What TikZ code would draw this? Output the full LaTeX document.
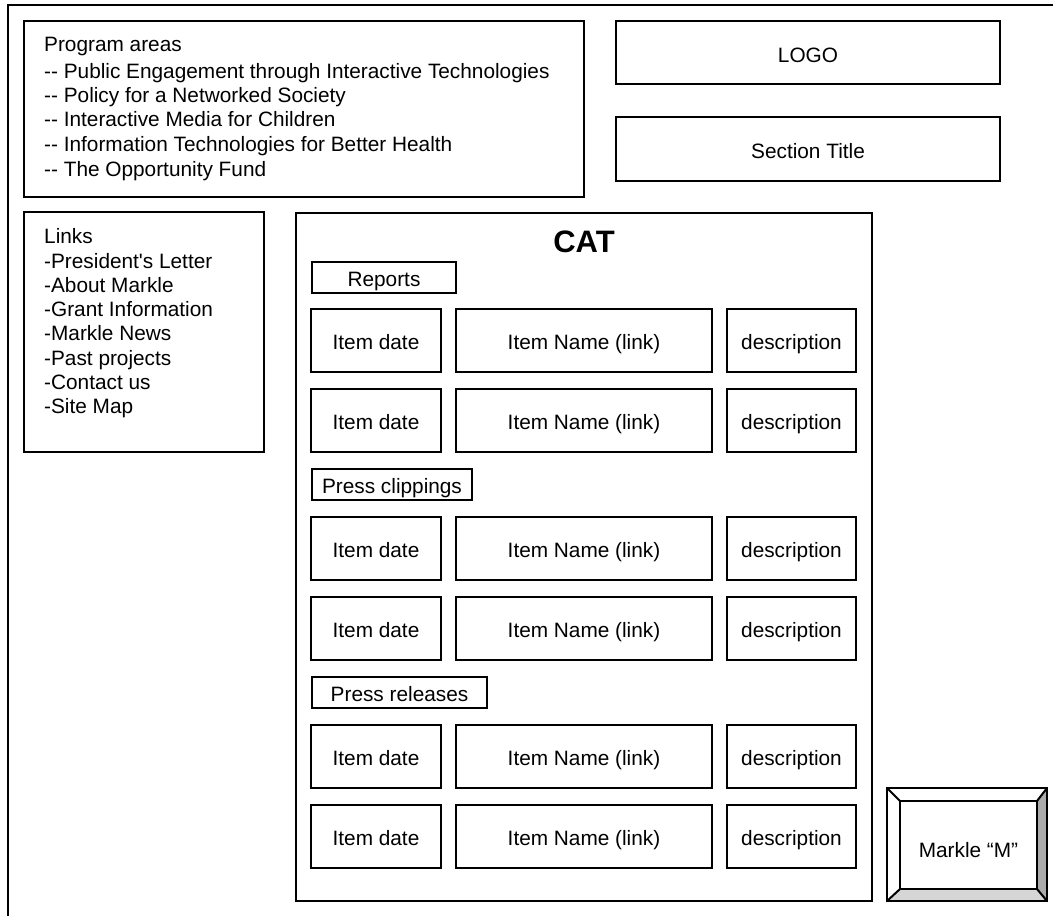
\documentclass[tikz,border=0pt]{standalone}
\usepackage{fontspec}
\setmainfont{Liberation Sans}[Ligatures=TeXOff]
\begin{document}
\begin{tikzpicture}[x=1pt,y=-1pt,
  frame/.style={draw=black, line width=2pt},
  box/.style={draw=black, line width=2pt, inner sep=0pt, align=center,
    text height=18pt, text depth=0pt,
    font=\fontsize{20.8}{24}\selectfont},
  itembox/.style={box, minimum height=63pt},
  label/.style={box, minimum height=31pt},
  txt/.style={anchor=base west, inner sep=0pt, font=\fontsize{20.8}{24}\selectfont},
]
\useasboundingbox (0,0) rectangle (1053,916);
% outer frame (extends beyond the page at right and bottom)
\coordinate (fbl) at (8,930);
\coordinate (ftl) at (8,5);
\coordinate (ftr) at (1070,5);
\draw[frame] (fbl) -- (ftl) -- (ftr);

% program areas
\node[box, minimum width=560pt, minimum height=176pt] (prog) at (304,109) {};
\node[txt] (p0) at (44,51.7) {Program areas};
\node[txt] (p1) at (44,78.3) {-- Public Engagement through Interactive Technologies};
\node[txt] (p2) at (44,102.5) {-- Policy for a Networked Society};
\node[txt] (p3) at (44,126.8) {-- Interactive Media for Children};
\node[txt] (p4) at (44,151.1) {-- Information Technologies for Better Health};
\node[txt] (p5) at (44,176.7) {-- The Opportunity Fund};

% logo and title
\node[box, minimum width=384pt, minimum height=63pt, text height=20pt] (logo) at (808,52.5) {LOGO};
\node[box, minimum width=384pt, minimum height=64pt, text height=19pt] (section) at (808,149) {Section Title};

% links
\node[box, minimum width=240pt, minimum height=240pt] (links) at (144,332) {};
\node[txt] (l0) at (44,243.5) {Links};
\node[txt] (l1) at (44,268) {-President's Letter};
\node[txt] (l2) at (44,292.3) {-About Markle};
\node[txt] (l3) at (44,316.6) {-Grant Information};
\node[txt] (l4) at (44,340.9) {-Markle News};
\node[txt] (l5) at (44,365.2) {-Past projects};
\node[txt] (l6) at (44,389.5) {-Contact us};
\node[txt] (l7) at (44,413.8) {-Site Map};

% CAT
\node[box, minimum width=576pt, minimum height=688pt] (cat) at (584,557) {};
\node[inner sep=0pt, font=\fontsize{31}{36}\selectfont\bfseries] (cattitle) at (584,242) {CAT};

\node[label, minimum width=144pt] (reports) at (384,277) {Reports};
\node[label, minimum width=160pt] (clippings) at (392,484.5) {Press clippings};
\node[label, minimum width=175pt] (releases) at (399.5,692.5) {Press releases};

\foreach \r/\y in {1/340.5,2/420.5,3/548.5,4/628.5,5/756.5,6/836.5}{
  \node[itembox, minimum width=130pt] (date\r) at (376,\y) {Item date};
  \node[itembox, minimum width=256pt] (name\r) at (584,\y) {Item Name (link)};
  \node[itembox, minimum width=129pt] (desc\r) at (791.5,\y) {description};
}

% Markle "M" bevel button
\coordinate (otl) at (887,788);
\coordinate (otr) at (1047,788);
\coordinate (obr) at (1047,901);
\coordinate (obl) at (887,901);
\coordinate (itl) at (900,801);
\coordinate (itr) at (1037,801);
\coordinate (ibr) at (1037,889);
\coordinate (ibl) at (900,889);
\fill[white] (otl) -- (otr) -- (itr) -- (itl) -- cycle;
\fill[white] (otl) -- (obl) -- (ibl) -- (itl) -- cycle;
\fill[black!33] (otr) -- (obr) -- (ibr) -- (itr) -- cycle;
\fill[black!16] (obl) -- (obr) -- (ibr) -- (ibl) -- cycle;
\draw[frame, line join=miter] (otl) -- (otr) -- (obr) -- (obl) -- cycle;
\draw[frame] (otl) -- (itl) (otr) -- (itr) (obr) -- (ibr) (obl) -- (ibl);
\node[box, minimum width=137pt, minimum height=88pt, text height=24pt] (markle) at (968.5,845) {Markle “M”};
\end{tikzpicture}
\end{document}
